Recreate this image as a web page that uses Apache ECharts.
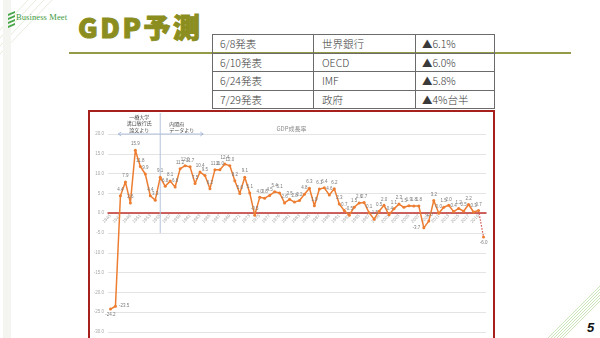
<!DOCTYPE html>
<html>
<head>
<meta charset="utf-8">
<script src="https://cdn.jsdelivr.net/npm/echarts@6/dist/echarts.min.js"></script>
<style>
  html, body { margin: 0; padding: 0; width: 600px; height: 338px; overflow: hidden; background: #fff; }
  #slide { position: relative; width: 600px; height: 338px; font-family: "Noto Sans CJK JP", "Liberation Sans", sans-serif; }
  #deco { position: absolute; left: 0; top: 0; }
  .brand { position: absolute; left: 16px; top: 12px; font-family: "Liberation Serif", serif; font-size: 8.5px; color: #3f9b3f; letter-spacing: 0.1px; }
  .heading { position: absolute; left: 78px; top: 13px; font-family: "Noto Sans CJK JP", sans-serif; font-weight: 900; font-size: 27px; line-height: 27px; color: #8b8e1f; letter-spacing: 2.5px; -webkit-text-stroke: 1px #8b8e1f; }
  .rule { position: absolute; left: 69px; top: 52px; width: 502px; height: 1.5px; background: #949a45; }
  table.fc { position: absolute; left: 212px; top: 34px; border-collapse: collapse; font-family: "Noto Sans CJK JP", sans-serif; font-size: 10.5px; color: #3a3a3a; font-weight: 300; }
  table.fc td { border: 1px solid #6b6b6b; height: 18.5px; padding: 0 0 0 7px; line-height: 17px; box-sizing: border-box; }
  .frame { position: absolute; left: 88px; top: 110px; width: 407px; height: 228px; box-sizing: border-box; border: 2px solid #a8201e; border-bottom: none; }
  #chart { width: 403px; height: 226px; }
  .page { position: absolute; left: 587px; top: 320px; font-family: "Liberation Sans", sans-serif; font-weight: bold; font-style: italic; font-size: 13px; color: #111; }
</style>
</head>
<body>
<div id="slide">
  <svg id="deco" width="600" height="338">
    <!-- faint hatching at the top-left corner -->
    <g stroke="#dfe6d6" stroke-width="0.8">
      <line x1="0" y1="30" x2="28" y2="0"/>
      <line x1="0" y1="38" x2="36" y2="0"/>
      <line x1="0" y1="46" x2="44" y2="0"/>
      <line x1="0" y1="54" x2="52" y2="0"/>
    </g>
    <rect x="3" y="0" width="8" height="338" fill="#f4f5f1"/>
    <!-- logo mark -->
    <g fill="#4aa84a">
      <polygon points="8,14 15,11 15,13 8,16"/>
      <polygon points="8,18 15,15 15,17 8,20"/>
      <polygon points="8,22 15,19 15,21 8,24"/>
      <polygon points="8,26 15,23 15,25 8,28"/>
    </g>
    <!-- green stripes at the bottom-right corner -->
    <g stroke="#bfe0a8" stroke-width="0.8">
      <line x1="548" y1="338" x2="600" y2="286"/>
      <line x1="551" y1="338" x2="600" y2="289"/>
      <line x1="554" y1="338" x2="600" y2="292"/>
      <line x1="557" y1="338" x2="600" y2="295"/>
      <line x1="560" y1="338" x2="600" y2="298"/>
      <line x1="563" y1="338" x2="600" y2="301"/>
    </g>
  </svg>
  <div class="brand">Business Meet</div>
  <div class="heading">GDP予測</div>
  <div class="rule"></div>
  <table class="fc">
    <tr><td style="width:101px">6/8発表</td><td style="width:102px;padding-left:8px">世界銀行</td><td style="width:79px;padding-left:6px">▲6.1%</td></tr>
    <tr><td>6/10発表</td><td style="padding-left:8px">OECD</td><td style="padding-left:6px">▲6.0%</td></tr>
    <tr><td>6/24発表</td><td style="padding-left:8px">IMF</td><td style="padding-left:6px">▲5.8%</td></tr>
    <tr><td>7/29発表</td><td style="padding-left:8px">政府</td><td style="padding-left:6px">▲4%台半</td></tr>
  </table>
  <div class="frame"><div id="chart"></div></div>
  <div class="page">5</div>
</div>
<script>
// Real GDP growth rate (%), 1945–2019, plus the 2020 outlook
const years = ['1945','1946','1947','1948','1949','1950','1951','1952','1953','1954',
  '1955','1956','1957','1958','1959','1960','1961','1962','1963','1964',
  '1965','1966','1967','1968','1969','1970','1971','1972','1973','1974',
  '1975','1976','1977','1978','1979','1980','1981','1982','1983','1984',
  '1985','1986','1987','1988','1989','1990','1991','1992','1993','1994',
  '1995','1996','1997','1998','1999','2000','2001','2002','2003','2004',
  '2005','2006','2007','2008','2009','2010','2011','2012','2013','2014',
  '2015','2016','2017','2018','2019','2020'];

const growth = [-24.2, -23.5, 4.4, 7.9, 2.6, 15.9, 11.8, 9.9, 4.4, 3.3,
  9.1, 6.8, 8.1, 6.6, 11.2, 12.0, 11.7, 7.5, 10.4, 9.5,
  6.2, 11.0, 11.0, 12.4, 12.0, 8.2, 5.0, 9.1, 5.1, -0.5,
  4.0, 3.8, 4.5, 5.4, 5.1, 2.6, 3.5, 2.8, 3.2, 4.8,
  6.3, 1.9, 6.1, 6.4, 4.6, 6.2, 2.3, 0.7, -0.5, 1.5,
  2.6, 2.7, 0.1, -1.5, 0.5, 2.0, -0.4, 1.1, 2.3, 1.5,
  1.9, 1.8, 1.8, -3.7, -2.0, 3.2, 0.0, 1.5, 2.0, 0.4,
  1.2, 0.5, 2.2, 0.3, 0.7];

const forecastYear = '2020';
const forecastValue = -6.0;

const yTicks = { min: -30, max: 20, step: 5 };
const sourceSplitYear = '1955';

const ORANGE = '#ed7d31';
const LABEL_GRAY = '#7a7a7a';

// label placement tweaks for a few crowded points
const labelPos = { '1945': 'bottom', '1946': 'right', '2008': 'left' };

const mainData = growth.map((v, i) => {
  const pos = labelPos[years[i]];
  return pos ? { value: v, label: { position: pos } } : v;
});

const bridgeData = years.map((y, i) => {
  if (i === growth.length - 1) return { value: growth[i], symbol: 'none', label: { show: false } };
  if (y === forecastYear) return { value: forecastValue };
  return '-';
});

const chart = echarts.init(document.getElementById('chart'));
const small = { fontSize: 4.5, fontFamily: 'Liberation Sans' };

chart.setOption({
  animation: false,
  title: {
    text: 'GDP成長率', left: 'center', top: 9,
    textStyle: { fontSize: 6, color: '#8c8c8c', fontWeight: 'normal', fontFamily: 'Noto Sans CJK JP' }
  },
  grid: { left: 18, right: 7, top: 22, bottom: 6, containLabel: false, outerBoundsMode: 'none' },
  xAxis: {
    type: 'category', data: years, boundaryGap: true,
    axisLine: { onZero: false, lineStyle: { color: '#c0302b', width: 1.5 } },
    axisTick: { show: false },
    axisLabel: Object.assign({ interval: 1, rotate: 45, color: '#a8a8a8', margin: 2 }, small)
  },
  yAxis: {
    type: 'value', min: yTicks.min, max: yTicks.max, interval: yTicks.step,
    axisLine: { show: false }, axisTick: { show: false },
    splitLine: { lineStyle: { color: '#e4e4e4', width: 1 } },
    axisLabel: Object.assign({ color: '#a8a8a8', margin: 4, formatter: v => v.toFixed(1) }, small)
  },
  series: [
    {
      type: 'line', data: mainData, z: 3,
      lineStyle: { color: ORANGE, width: 1.5 },
      itemStyle: { color: ORANGE },
      symbol: 'circle', symbolSize: 3, showAllSymbol: true,
      label: Object.assign({ show: true, position: 'top', distance: 2, color: LABEL_GRAY,
        formatter: p => Number(p.value).toFixed(1) }, small)
    },
    {
      type: 'line', data: bridgeData, z: 2,
      lineStyle: { color: '#d0504a', width: 1.2, type: [1.5, 1.5] },
      itemStyle: { color: ORANGE },
      symbol: 'circle', symbolSize: 3,
      label: Object.assign({ show: true, position: 'bottom', distance: 2, color: LABEL_GRAY,
        formatter: p => Number(p.value).toFixed(1) }, small)
    }
  ]
});

// move the category axis (line + year labels) up to the zero line
const zeroY = chart.convertToPixel({ yAxisIndex: 0 }, 0);
const baseY = chart.convertToPixel({ yAxisIndex: 0 }, yTicks.min);
chart.setOption({ xAxis: { offset: zeroY - baseY } });

// source annotation: divider at 1955 with a double-headed arrow and notes
const xs = chart.convertToPixel({ xAxisIndex: 0 }, sourceSplitYear);
const yBottom = chart.convertToPixel({ yAxisIndex: 0 }, -5);
const yArrow = chart.convertToPixel({ yAxisIndex: 0 }, yTicks.max);
const arrowL = xs - 42, arrowR = xs + 43;
const noteFont = '5px "Noto Sans CJK JP"';
const noteColor = '#4a4a4a';

chart.setOption({
  graphic: [
    { type: 'line', shape: { x1: xs, y1: 1, x2: xs, y2: yBottom }, style: { stroke: '#b3c2dc', lineWidth: 1 }, z: 1 },
    { type: 'line', shape: { x1: arrowL, y1: yArrow, x2: arrowR, y2: yArrow }, style: { stroke: '#9fb3d6', lineWidth: 0.8 } },
    { type: 'polyline', shape: { points: [[arrowL + 3, yArrow - 2], [arrowL, yArrow], [arrowL + 3, yArrow + 2]] }, style: { stroke: '#9fb3d6', lineWidth: 0.8, fill: null } },
    { type: 'polyline', shape: { points: [[arrowR - 3, yArrow - 2], [arrowR, yArrow], [arrowR - 3, yArrow + 2]] }, style: { stroke: '#9fb3d6', lineWidth: 0.8, fill: null } },
    { type: 'text', x: xs - 21, y: 5, style: { text: '一橋大学', font: noteFont, fill: noteColor, align: 'center', verticalAlign: 'middle' } },
    { type: 'text', x: xs - 21, y: 11.5, style: { text: '溝口敏行氏', font: noteFont, fill: noteColor, align: 'center', verticalAlign: 'middle' } },
    { type: 'text', x: xs - 21, y: 18, style: { text: '論文より', font: noteFont, fill: noteColor, align: 'center', verticalAlign: 'middle' } },
    { type: 'text', x: xs + 9, y: 12, style: { text: '内閣府', font: noteFont, fill: noteColor, align: 'left', verticalAlign: 'middle' } },
    { type: 'text', x: xs + 9, y: 18.3, style: { text: 'データより', font: noteFont, fill: noteColor, align: 'left', verticalAlign: 'middle' } }
  ]
});
</script>
</body>
</html>
